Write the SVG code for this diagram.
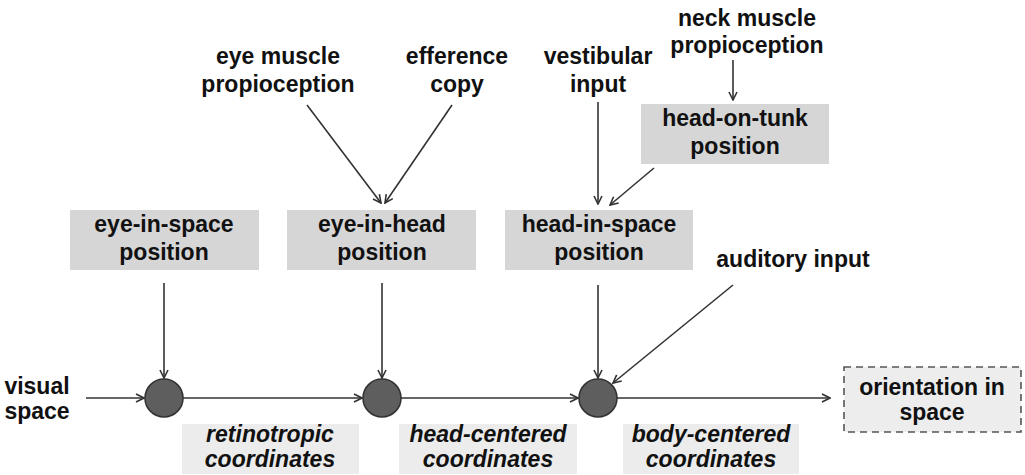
<svg xmlns="http://www.w3.org/2000/svg" width="1025" height="475" viewBox="0 0 1025 475">
<defs>
<marker id="ah" viewBox="0 0 10 10" refX="9" refY="5" markerWidth="10" markerHeight="10" markerUnits="userSpaceOnUse" orient="auto">
<path d="M1,1 L9,5 L1,9" fill="none" stroke="#333" stroke-width="1.6"/>
</marker>
</defs>
<style>
text{font-family:"Liberation Sans",Arial,sans-serif;font-weight:bold;font-size:23px;fill:#111;text-anchor:middle}
.it{font-style:italic}
.box{fill:#d6d6d6}
.cbox{fill:#ececec}
.dbox{fill:#ededed;stroke:#555;stroke-width:1.6;stroke-dasharray:7,5}
.c{fill:#5e5e5e;stroke:#333;stroke-width:1.6}
.ln{stroke:#333;stroke-width:1.6;fill:none;marker-end:url(#ah)}
</style>
<rect width="1025" height="475" fill="#fff"/>
<g id="connectors">
<line class="ln" x1="86" y1="398" x2="144" y2="398"/>
<line class="ln" x1="183" y1="398" x2="362" y2="398"/>
<line class="ln" x1="401" y1="398" x2="578" y2="398"/>
<line class="ln" x1="617" y1="398" x2="830" y2="398"/>
<line class="ln" x1="164" y1="283" x2="164" y2="378"/>
<line class="ln" x1="382" y1="283" x2="382" y2="378"/>
<line class="ln" x1="598" y1="285" x2="598" y2="378"/>
<line class="ln" x1="733" y1="285" x2="613" y2="383"/>
<line class="ln" x1="307" y1="105" x2="381" y2="203"/>
<line class="ln" x1="452" y1="105" x2="385" y2="203"/>
<line class="ln" x1="598" y1="102" x2="598" y2="204"/>
<line class="ln" x1="654" y1="168" x2="610" y2="205"/>
<line class="ln" x1="733" y1="60" x2="733" y2="100"/>
</g>
<g id="visual-space"><text x="37" y="394">visual</text><text x="37" y="419">space</text></g>
<g id="eye-muscle"><text x="278" y="64">eye muscle</text><text x="278" y="92">propioception</text></g>
<g id="efference"><text x="457" y="64">efference</text><text x="457" y="92">copy</text></g>
<g id="vestibular"><text x="598" y="64">vestibular</text><text x="598" y="92">input</text></g>
<g id="neck-muscle"><text x="747" y="26">neck muscle</text><text x="747" y="53">propioception</text></g>
<g id="auditory"><text x="793" y="267">auditory input</text></g>
<g id="eye-in-space"><rect class="box" x="70" y="210" width="189" height="60"/><text x="164" y="232">eye-in-space</text><text x="164" y="260">position</text></g>
<g id="eye-in-head"><rect class="box" x="287" y="210" width="189" height="60"/><text x="382" y="232">eye-in-head</text><text x="382" y="260">position</text></g>
<g id="head-in-space"><rect class="box" x="505" y="210" width="188" height="60"/><text x="599" y="232">head-in-space</text><text x="599" y="260">position</text></g>
<g id="head-on-tunk"><rect class="box" x="641" y="104" width="188" height="60"/><text x="735" y="126">head-on-tunk</text><text x="735" y="154">position</text></g>
<g id="sum1"><circle class="c" cx="164" cy="398" r="19"/></g>
<g id="sum2"><circle class="c" cx="382" cy="398" r="19"/></g>
<g id="sum3"><circle class="c" cx="598" cy="398" r="19"/></g>
<g id="retinotropic"><rect class="cbox" x="182" y="424" width="177" height="50"/><text class="it" x="270" y="442">retinotropic</text><text class="it" x="270" y="467">coordinates</text></g>
<g id="head-centered"><rect class="cbox" x="399" y="424" width="178" height="50"/><text class="it" x="488" y="442">head-centered</text><text class="it" x="488" y="467">coordinates</text></g>
<g id="body-centered"><rect class="cbox" x="623" y="424" width="176" height="50"/><text class="it" x="711" y="442">body-centered</text><text class="it" x="711" y="467">coordinates</text></g>
<g id="orientation"><rect class="dbox" x="844" y="367" width="177" height="65"/><text x="932" y="395">orientation in</text><text x="932" y="420">space</text></g>
</svg>
